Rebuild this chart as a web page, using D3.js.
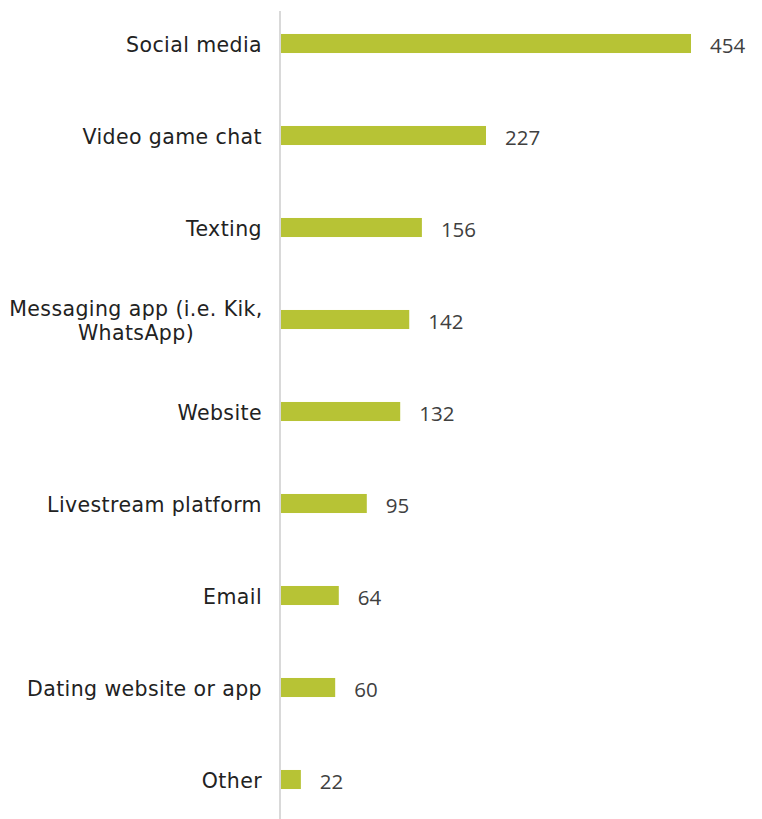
<!DOCTYPE html>
<html>
<head>
<meta charset="utf-8">
<script src="https://cdn.jsdelivr.net/npm/d3@7"></script>
<style>
  html, body { margin: 0; padding: 0; background: #fff; }
  svg { display: block; }
</style>
</head>
<body>
<svg id="chart" width="762" height="819"></svg>
<script>
// Platforms and counts
const categories = [
  "Social media",
  "Video game chat",
  "Texting",
  "Messaging app (i.e. Kik, WhatsApp)",
  "Website",
  "Livestream platform",
  "Email",
  "Dating website or app",
  "Other"
];
const values = [454, 227, 156, 142, 132, 95, 64, 60, 22];
// Category labels broken into lines
const labelLines = [
  ["Social media"],
  ["Video game chat"],
  ["Texting"],
  ["Messaging app (i.e. Kik,", "WhatsApp)"],
  ["Website"],
  ["Livestream platform"],
  ["Email"],
  ["Dating website or app"],
  ["Other"]
];

const svg = d3.select("#chart");
const W = 762, H = 819;
const x0 = 281;

const x = d3.scaleLinear().domain([0, 454]).range([x0, 691]);
const y = d3.scaleBand()
  .domain(categories)
  .range([-2.5, 825.5])
  .paddingInner(0.793)
  .paddingOuter(0.3965);

const data = categories.map((c, i) => ({ c, v: values[i], lines: labelLines[i] }));

// Bars
svg.append("g").selectAll("rect")
  .data(data).join("rect")
  .attr("x", x(0))
  .attr("y", d => y(d.c))
  .attr("width", d => x(d.v) - x(0))
  .attr("height", y.bandwidth())
  .attr("fill", "#b7c335");

// Vertical axis line
svg.append("line")
  .attr("x1", 280).attr("x2", 280)
  .attr("y1", 11).attr("y2", H)
  .attr("stroke", "#d9d9d9").attr("stroke-width", 2);

// Category labels
const lab = svg.append("g")
  .attr("font-family", "'DejaVu Sans', sans-serif")
  .attr("font-size", 20.5)
  .attr("letter-spacing", 0.4)
  .attr("fill", "#222");
data.forEach(d => {
  const cy = y(d.c) + y.bandwidth() / 2;
  const n = d.lines.length;
  const lh = 24;
  const ax = n > 1 ? 136 : 262;
  const t = lab.append("text")
    .attr("text-anchor", n > 1 ? "middle" : "end")
    .attr("x", ax);
  d.lines.forEach((ln, k) => {
    t.append("tspan")
      .attr("x", ax)
      .attr("y", cy + (k - (n - 1) / 2) * lh + 1)
      .attr("dy", "0.35em")
      .text(ln);
  });
});

// Value labels
svg.append("g")
  .attr("font-family", "'Open Sans', sans-serif")
  .attr("font-size", 20.5)
  .attr("fill", "#404040")
  .selectAll("text")
  .data(data).join("text")
  .attr("x", d => x(d.v) + 19)
  .attr("y", d => y(d.c) + y.bandwidth() / 2 + 2)
  .attr("dy", "0.35em")
  .text(d => d.v);
</script>
</body>
</html>
